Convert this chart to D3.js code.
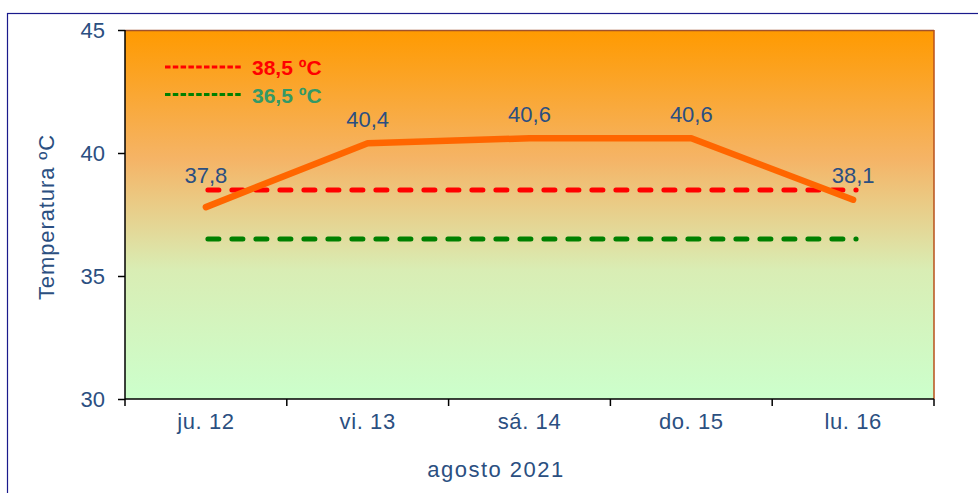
<!DOCTYPE html>
<html><head><meta charset="utf-8">
<script src="https://cdn.jsdelivr.net/npm/d3@7"></script>
<style>body{margin:0;background:#fff}svg{display:block;font-family:"Liberation Sans",Arial,sans-serif}</style>
</head><body><svg id="c" width="978" height="493"></svg>
<script>
const categories = ["ju. 12","vi. 13","sá. 14","do. 15","lu. 16"];
const temps = [37.8, 40.4, 40.6, 40.6, 38.1];
const labels = ["37,8","40,4","40,6","40,6","38,1"];
const yTicks = [30, 35, 40, 45];
const thresholds = [38.5, 36.5];
const thresholdLabels = ["38,5 ºC", "36,5 ºC"];

const svg = d3.select("#c");
const L=125, R=934, T=30, B=399;
const blue = "#2B4F81";
svg.append("rect").attr("x",7.5).attr("y",13.5).attr("width",1000).attr("height",600)
  .attr("fill","none").attr("stroke","#1a1a8c").attr("stroke-width",1.2);

const defs = svg.append("defs");
const g = defs.append("linearGradient").attr("id","bg").attr("x1",0).attr("x2",0).attr("y1",0).attr("y2",1);
g.append("stop").attr("offset","0%").attr("stop-color","#FF9A00");
g.append("stop").attr("offset","35%").attr("stop-color","#F5B466");
g.append("stop").attr("offset","65%").attr("stop-color","#D9EDB4");
g.append("stop").attr("offset","100%").attr("stop-color","#CCFFCC");

const x = d3.scaleBand().domain(categories).range([L,R]).padding(0);
const y = d3.scaleLinear().domain([30,45]).range([B,T]);
const cx = d => x(d)+x.bandwidth()/2;

svg.append("rect").attr("x",L).attr("y",T).attr("width",R-L).attr("height",B-T).attr("fill","url(#bg)");
svg.append("line").attr("x1",L).attr("x2",R).attr("y1",T+0.5).attr("y2",T+0.5).attr("stroke","#A0522D").attr("stroke-width",1.5);
svg.append("line").attr("x1",R).attr("x2",R).attr("y1",T).attr("y2",B).attr("stroke","#B8501A").attr("stroke-width",1.5);

// threshold lines
const tColors = ["#FF0000","#008000"];
thresholds.forEach((t,i)=>{
  svg.append("line").attr("x1",cx(categories[0])+2).attr("x2",cx(categories[4])+3)
    .attr("y1",y(t)).attr("y2",y(t)).attr("stroke",tColors[i]).attr("stroke-width",5)
    .attr("stroke-dasharray","11,13").attr("stroke-linecap","round");
});

// main line
svg.append("path").datum(temps)
  .attr("d", d3.line().x((d,i)=>cx(categories[i])).y(d=>y(d)))
  .attr("fill","none").attr("stroke","#FF6600").attr("stroke-width",6.5)
  .attr("stroke-linecap","round").attr("stroke-linejoin","round");

// data labels (kept above the upper threshold line)
const topThr = y(d3.max(thresholds));
svg.append("g").selectAll("text").data(temps).join("text")
  .attr("x",(d,i)=>cx(categories[i])).attr("y",d=>Math.min(y(d)-16, topThr-7))
  .attr("text-anchor","middle").attr("font-size",22).attr("fill",blue)
  .text((d,i)=>labels[i]);

// legend
const legColors = ["#FF0000","#339966"];
thresholdLabels.forEach((lab,i)=>{
  const ly = 67 + i*27.5;
  svg.append("line").attr("x1",165).attr("x2",243).attr("y1",ly).attr("y2",ly)
    .attr("stroke",tColors[i]).attr("stroke-width",2.8).attr("stroke-dasharray","5.5,2.3");
  svg.append("text").attr("x",252).attr("y",ly+8).attr("font-size",21).attr("font-weight","bold")
    .attr("fill",legColors[i]).text(lab);
});

// axes
const ya = svg.append("g").attr("transform",`translate(${L},0)`)
  .call(d3.axisLeft(y).tickValues(yTicks).tickSize(7).tickPadding(13));
ya.selectAll("text").attr("font-size",22).attr("fill",blue).attr("font-family","Liberation Sans, Arial");
ya.selectAll("line").attr("stroke","#000").attr("stroke-width",1.5);
ya.select(".domain").attr("stroke","#000").attr("stroke-width",1.5).attr("d",`M0,${T}V${B}`);

const xa = svg.append("g").attr("transform",`translate(0,${B})`)
  .call(d3.axisBottom(x).tickSize(0).tickPadding(14));
xa.selectAll("text").attr("font-size",22).attr("fill",blue).attr("font-family","Liberation Sans, Arial")
  .attr("letter-spacing",0.6);
xa.select(".domain").attr("stroke","#000").attr("stroke-width",1.5).attr("d",`M${L},0H${R}`);
const bounds = categories.map(c=>x(c)).concat([R]);
xa.selectAll(".bt").data(bounds).join("line").attr("class","bt")
  .attr("x1",d=>d).attr("x2",d=>d).attr("y1",0).attr("y2",7).attr("stroke","#000").attr("stroke-width",1.5);

svg.append("text").attr("transform","translate(54,217) rotate(-90)").attr("text-anchor","middle")
  .attr("font-size",22).attr("letter-spacing",0.9).attr("fill",blue).text("Temperatura ºC");
svg.append("text").attr("x",496).attr("y",477).attr("text-anchor","middle")
  .attr("font-size",22).attr("letter-spacing",1.5).attr("fill",blue).text("agosto 2021");
</script></body></html>
